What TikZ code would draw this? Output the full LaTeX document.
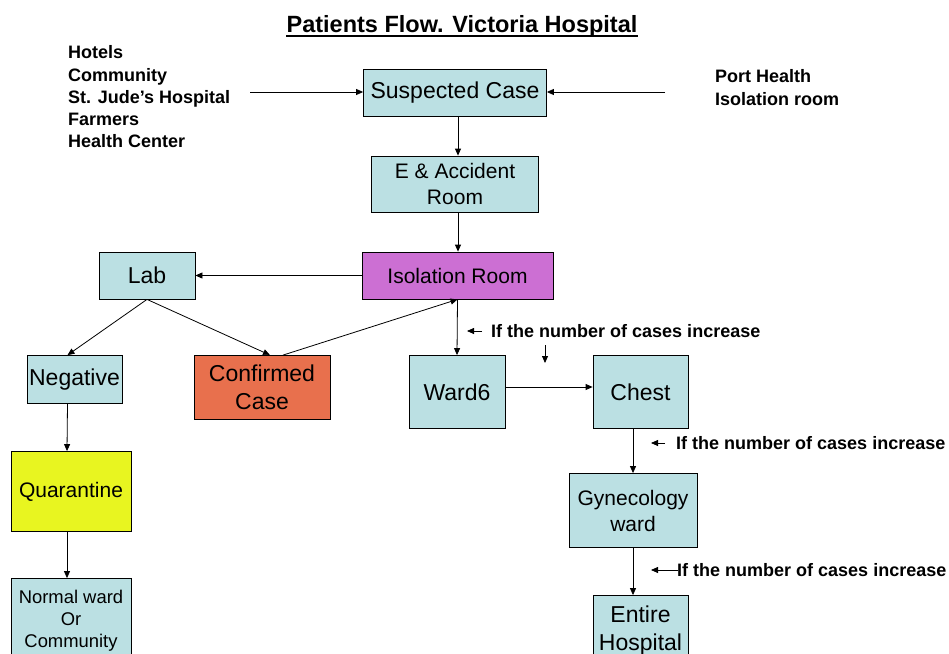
\documentclass[tikz,border=0pt]{standalone}
\usepackage{fontspec}
\setmainfont{Liberation Sans}
\usetikzlibrary{arrows.meta,positioning}

\definecolor{paleblue}{HTML}{BBE0E3}
\definecolor{isoviolet}{HTML}{CC6FD3}
\definecolor{confred}{HTML}{E8704D}
\definecolor{quaryellow}{HTML}{E8F520}

\begin{document}
\begin{tikzpicture}[x=1pt, y=-1pt,
      box/.style={draw, fill=paleblue, align=center, inner sep=0pt, line width=0.8pt,
        font=\fontsize{23}{28}\selectfont},
      midbox/.style={box, font=\fontsize{21}{26}\selectfont},
      note/.style={font=\bfseries\fontsize{18}{22.3}\selectfont, inner sep=0pt},
      arrow/.style={-{Triangle[length=7pt, width=6pt]}, line width=0.8pt}
    ]
      \useasboundingbox (0,0) rectangle (949,653);
      \clip (0,0) rectangle (949,653);

      \node[anchor=base, inner sep=0pt, font=\bfseries\fontsize{23.5}{26}\selectfont] (title) at (462,32) {Patients Flow. Victoria Hospital};
      \draw[line width=2pt] ([yshift=-3.5pt]title.base west) -- ([yshift=-3.5pt]title.base east);

      % sources
      \node[note, anchor=north west, align=left] (src) at (68,45.5) {Hotels\\Community\\St. Jude’s Hospital\\Farmers\\Health Center};
      \node[note, anchor=north west, align=left] (port) at (715,69.5) {Port Health\\Isolation room};
      \coordinate (srcend) at (250,92);
      \coordinate (portend) at (665,92);

      % main column
      \node[box, minimum width=183pt, minimum height=47pt] (susp) at (455,93) {Suspected Case};
      \node[midbox, minimum width=167pt, minimum height=56pt] (er) at (455,184) {E \& Accident\\Room};
      \node[midbox, fill=isoviolet, minimum width=191pt, minimum height=47pt] (iso) at (457.5,275.5) {Isolation Room};
      \node[box, minimum width=96pt, minimum height=47pt] (lab) at (147,275.5) {Lab};
      \node[box, minimum width=95pt, minimum height=48pt] (neg) at (74.5,379.5) {Negative};
      \node[box, fill=confred, minimum width=136pt, minimum height=64pt] (conf) at (262,387.5) {Confirmed\\Case};
      \node[midbox, fill=quaryellow, minimum width=120pt, minimum height=80pt] (quar) at (71,491.5) {Quarantine};
      \node[box, font=\fontsize{18.4}{22}\selectfont, minimum width=120pt, minimum height=84pt] (norm) at (71,620.5) {Normal ward\\Or\\Community};

      % wards
      \node[box, minimum width=96pt, minimum height=73pt] (ward) at (457,392) {Ward6};
      \node[box, minimum width=95pt, minimum height=73pt] (chest) at (640.5,392) {Chest};
      \node[midbox, minimum width=128pt, minimum height=74pt] (gyn) at (633,510.5) {Gynecology\\ward};
      \node[box, minimum width=95pt, minimum height=70pt] (ent) at (640.5,630.5) {Entire\\Hospital};

      % notes on growing case numbers
      \coordinate (n1a) at (482,331);
      \coordinate (n1b) at (467,331);
      \node[note, anchor=west] (inc1) at (491,331.5) {If the number of cases increase};
      \coordinate (d1a) at (545,345);
      \coordinate (d1b) at (545,363);
      \coordinate (n2a) at (665,443);
      \coordinate (n2b) at (651,443);
      \node[note, anchor=west] (inc2) at (676,443.5) {If the number of cases increase};
      \coordinate (n3a) at (678,570);
      \coordinate (n3b) at (651,570);
      \node[note, anchor=west] (inc3) at (677,570.5) {If the number of cases increase};

      \draw[arrow] (srcend) -- (susp.west |- srcend);
      \draw[arrow] (portend) -- (susp.east |- portend);
      \draw[arrow] ([xshift=3pt]susp.south) -- ([xshift=3pt]er.north);
      \draw[arrow] ([xshift=3pt]er.south) -- ([xshift=3pt]er.south |- iso.north);
      \draw[arrow] (iso.west) -- (lab.east);
      \draw[arrow] (lab.south) -- ([xshift=-7pt]neg.north);
      \draw[arrow] (lab.south) -- ([xshift=8pt]conf.north);
      \draw[arrow] ([xshift=21pt]conf.north) -- (iso.south);
      \draw[arrow] (iso.south) -- (ward.north);
      \draw[arrow] (ward.east |- 0,387) -- (chest.west |- 0,387);
      \draw[arrow] (chest.south -| gyn) -- (gyn.north);
      \draw[arrow] (gyn.south) -- (gyn.south |- ent.north);
      \draw[arrow] ([xshift=-7pt]neg.south) -- ([xshift=-4pt]quar.north);
      \draw[arrow] ([xshift=-4pt]quar.south) -- ([xshift=-4pt]norm.north);
      \draw[arrow] (n1a) -- (n1b);
      \draw[arrow] (d1a) -- (d1b);
      \draw[arrow] (n2a) -- (n2b);
      \draw[arrow] (n3a) -- (n3b);
    \end{tikzpicture}
\end{document}
